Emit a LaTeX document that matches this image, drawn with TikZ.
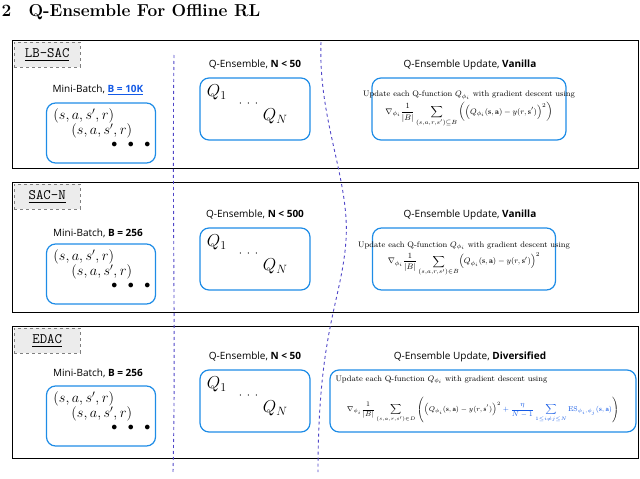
\documentclass[tikz,border=0pt]{standalone}
\usepackage{amsmath,amssymb}
\usepackage{fontspec}
\newfontfamily\sansf{Open Sans}
\usetikzlibrary{calc}
\definecolor{qblue}{RGB}{30,140,230}
\definecolor{dblue}{RGB}{80,70,200}
\definecolor{lblue}{RGB}{20,90,230}
\tikzset{
 panel/.style={draw,line width=0.8pt},
 tag/.style={draw=gray,dashed,fill=gray!15,font=\ttfamily\Large,inner sep=3pt,anchor=north west,minimum height=25pt,minimum width=66pt},
 rbox/.style={draw=qblue,line width=1.2pt,rounded corners=9pt},
 captext/.style={font=\sansf\normalsize},
 sep/.style={draw=dblue,dashed,line width=0.9pt},
}
\newcommand{\batch}[2]{%
 \node[rbox,minimum width=109pt,minimum height=60pt] (#1) at #2 {};
 \node[anchor=north west] (#1a) at ($(#1.north west)+(4,3)$) {\Large$(s,a,s',r)$};
 \node[anchor=north west] (#1b) at ($(#1.north west)+(22,18)$) {\Large$(s,a,s',r)$};
 \node[anchor=north west] (#1c) at ($(#1.north west)+(62,36)$) {\large$\bullet\ \ \bullet\ \ \bullet$};}
\newcommand{\qens}[2]{%
 \node[rbox,minimum width=110pt,minimum height=62pt] (#1) at #2 {};
 \node[anchor=north west] (#1a) at ($(#1.north west)+(4,4)$) {\LARGE$Q_1$};
 \node[anchor=north west] (#1b) at ($(#1.north west)+(36,20)$) {\large$\cdot\,\cdot\,\cdot$};
 \node[anchor=north west] (#1c) at ($(#1.north west)+(60,28)$) {\LARGE$Q_N$};}
\begin{document}
\begin{tikzpicture}[x=1pt,y=-1pt]
\useasboundingbox (0,0) rectangle (640,479);
\node[anchor=west,font=\bfseries\LARGE] (title) at (-2,12) {2\quad Q-Ensemble For Offline RL};
% panels
\draw[panel] (12,40) rectangle (638,168);
\draw[panel] (12,182) rectangle (638,312);
\draw[panel] (12,326) rectangle (638,458);
\node[tag] (t1) at (14,42) {\underline{LB-SAC}};
\node[tag] (t2) at (14,184) {\underline{SAC-N}};
\node[tag] (t3) at (14,328) {\underline{EDAC}};
% separators
\draw[sep] (174,55) .. controls (172,200) and (176,350) .. (173,472);
\draw[sep] (321,42) .. controls (318,120) and (350,180) .. (346,240) .. controls (342,300) and (318,330) .. (318,472);
% panel 1
\node[captext] (m1) at (98,90) {Mini-Batch, \textcolor{lblue}{\underline{\textbf{B = 10K}}}};
\batch{b1}{(101,133)}
\node[captext] (e1) at (255,65) {Q-Ensemble, \textbf{N < 50}};
\qens{q1}{(255,109)}
\node[captext] (u1) at (470,65) {Q-Ensemble Update, \textbf{Vanilla}};
\node[rbox,minimum width=194pt,minimum height=62pt] (f1) at (469,109) {};
\node[font=\footnotesize,align=center] (f1t) at (469,109) {Update each Q-function $Q_{\phi_i}$ with gradient descent using\\[2pt]
$\displaystyle \nabla_{\phi_i}\frac{1}{|B|}\sum_{(s,a,r,s')\subseteq B}\left(\Bigl(Q_{\phi_i}(\mathbf{s},\mathbf{a})-y(r,\mathbf{s}')\Bigr)^2\right)$};
% panel 2
\node[captext] (m2) at (98,233) {Mini-Batch, \textbf{B = 256}};
\batch{b2}{(101,274)}
\node[captext] (e2) at (255,215) {Q-Ensemble, \textbf{N < 500}};
\qens{q2}{(255,259)}
\node[captext] (u2) at (470,215) {Q-Ensemble Update, \textbf{Vanilla}};
\node[rbox,minimum width=183pt,minimum height=62pt] (f2) at (464,259) {};
\node[font=\footnotesize,align=center] (f2t) at (464,259) {Update each Q-function $Q_{\phi_i}$ with gradient descent using\\[2pt]
$\displaystyle \nabla_{\phi_i}\frac{1}{|B|}\sum_{(s,a,r,s')\in B}\Bigl(Q_{\phi_i}(\mathbf{s},\mathbf{a})-y(r,\mathbf{s}')\Bigr)^2$};
% panel 3
\node[captext] (m3) at (98,373) {Mini-Batch, \textbf{B = 256}};
\batch{b3}{(101,416)}
\node[captext] (e3) at (255,357) {Q-Ensemble, \textbf{N < 50}};
\qens{q3}{(255,401)}
\node[captext] (u3) at (470,357) {Q-Ensemble Update, \textbf{Diversified}};
\node[rbox,minimum width=306pt,minimum height=62pt] (f3) at (483,401) {};
\node[font=\footnotesize,anchor=north west] (f3a) at (332,372) {Update each Q-function $Q_{\phi_i}$ with gradient descent using};
\node[font=\scriptsize] (f3b) at (483,410) {$\displaystyle \nabla_{\phi_i}\frac{1}{|B|}\sum_{(s,a,r,s')\in D}\left(\Bigl(Q_{\phi_i}(\mathbf{s},\mathbf{a})-y(r,\mathbf{s}')\Bigr)^2\textcolor{lblue}{{}+\frac{\eta}{N-1}\sum_{1\le i\ne j\le N}\mathrm{ES}_{\phi_i,\phi_j}(\mathbf{s},\mathbf{a})}\right)$};
\end{tikzpicture}
\end{document}
